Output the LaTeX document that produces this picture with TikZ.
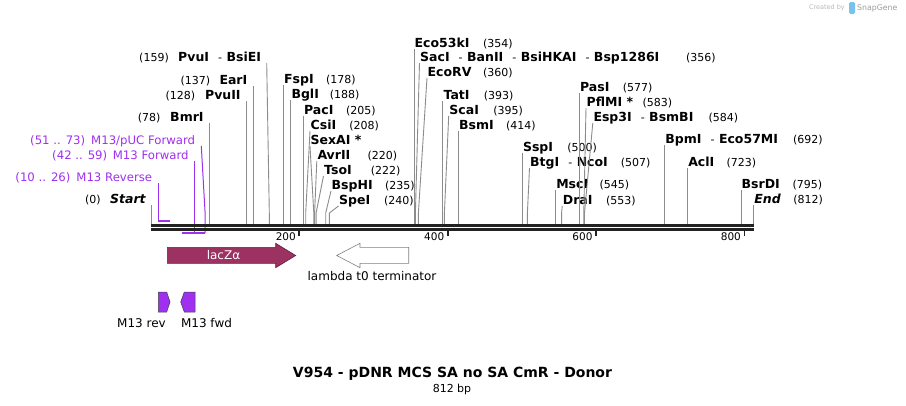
\documentclass[tikz,border=0pt]{standalone}
\usepackage{fontspec}
\setmainfont{DejaVu Sans}
\usetikzlibrary{positioning}

\definecolor{primer}{RGB}{160,48,240}
\definecolor{laczfill}{RGB}{155,50,98}
\definecolor{laczdraw}{RGB}{105,30,65}
\definecolor{siteline}{RGB}{140,140,140}
\definecolor{strandc}{RGB}{34,34,34}
\definecolor{wmgray}{RGB}{185,185,185}
\definecolor{wmblue}{RGB}{120,195,235}

\newcommand{\enz}[1]{{\fontsize{12.5}{14}\selectfont\bfseries #1}}
\newcommand{\enzsep}{\hspace{9pt}-\hspace{4.5pt}}

\tikzset{
  lab/.style={inner ysep=0pt, text depth=1.7pt, font=\fontsize{11}{13}\selectfont},
  rlab/.style={lab, anchor=south west, inner xsep=0.5pt},
  llab/.style={lab, anchor=south east, inner xsep=5.5pt},
  plab/.style={llab, inner xsep=6pt, text=primer, font=\fontsize{11.7}{14}\selectfont},
  siteln/.style={draw=siteline, line width=0.9pt},
  primln/.style={draw=primer, line width=1pt},
  primbar/.style={draw=primer, line width=1.6pt},
  strand/.style={draw=strandc, line width=2.9pt},
  tick/.style={draw=strandc, line width=1.7pt},
  ticklab/.style={anchor=base east, inner sep=0pt, font=\fontsize{10.5}{12}\selectfont},
  featlab/.style={inner sep=0pt, font=\fontsize{12}{14}\selectfont},
  primarrow/.style={fill=primer, draw=black!75, line width=0.5pt}
}

\begin{document}
\begin{tikzpicture}[x=1pt, y=-1pt]

\path[use as bounding box, fill=white] (0,0) rectangle (906,405);

% positions on the map (bp -> px)
\coordinate (kink) at (0,213);
\coordinate (m0)   at (151.4,224);
\coordinate (m78)  at (209.3,224);
\coordinate (m128) at (246.3,224);
\coordinate (m137) at (253.0,224);
\coordinate (m159) at (269.3,224);
\coordinate (m178) at (283.4,224);
\coordinate (m188) at (290.8,224);
\coordinate (m205) at (303.4,224);
\coordinate (m208) at (305.7,224);
\coordinate (m219) at (313.8,224);
\coordinate (m220) at (314.6,224);
\coordinate (m222) at (316.1,224);
\coordinate (m235) at (325.7,224);
\coordinate (m240) at (329.4,224);
\coordinate (m354) at (414.0,224);
\coordinate (m356) at (415.4,224);
\coordinate (m360) at (418.4,224);
\coordinate (m393) at (442.9,224);
\coordinate (m395) at (444.4,224);
\coordinate (m414) at (458.5,224);
\coordinate (m500) at (522.3,224);
\coordinate (m507) at (527.4,224);
\coordinate (m545) at (555.6,224);
\coordinate (m553) at (561.6,224);
\coordinate (m577) at (579.4,224);
\coordinate (m583) at (583.8,224);
\coordinate (m584) at (584.5,224);
\coordinate (m692) at (664.7,224);
\coordinate (m723) at (687.6,224);
\coordinate (m795) at (741.0,224);
\coordinate (m812) at (753.7,224);

% primers
\coordinate (p10) at (158.4,221);
\coordinate (p26) at (170.3,221);
\coordinate (p42) at (182.2,233);
\coordinate (p51) at (188.8,233);
\coordinate (p59) at (194.8,233);
\coordinate (p73) at (205.1,233);

\node[plab] (M13pUC) at (201.3,146) {\makebox[61pt][l]{(51 .. 73)}M13/pUC Forward};
\node[plab] (M13F)   at (194.8,161) {\makebox[60.6pt][l]{(42 .. 59)}M13 Forward};
\node[plab] (M13R)   at (158.4,183) {\makebox[61pt][l]{(10 .. 26)}M13 Reverse};

\draw[primln] (M13R.south east) -- (p10);
\draw[primbar] (p10) -- (p26);
\draw[primln] (M13F.south east) -- (p59);
\draw[primln] (M13pUC.south east) -- (p73 |- kink) -- (p73);
\draw[primbar] (p42) -- (p59);
\draw[primbar] (p51) -- (p73);

% sites, labels on the left
\node[llab] (Start) at (151.4,205) {\makebox[25pt][l]{(0)}\enz{\itshape Start}};
\node[llab] (BmrI)  at (209.3,123) {\makebox[32.4pt][l]{(78)}\enz{BmrI}};
\node[llab] (PvuII) at (246.3,101) {\makebox[39.4pt][l]{(128)}\enz{PvuII}};
\node[llab] (EarI)  at (253.0,86)  {\makebox[39pt][l]{(137)}\enz{EarI}};
\node[llab] (PvuI)  at (266.7,63)  {\makebox[39pt][l]{(159)}\enz{PvuI}\enzsep\enz{BsiEI}};

\draw[siteln] (Start.south east) -- (m0);
\draw[siteln] (BmrI.south east) -- (m78);
\draw[siteln] (PvuII.south east) -- (m128);
\draw[siteln] (EarI.south east) -- (m137);
\draw[siteln] (PvuI.south east) -- (m159 |- kink) -- (m159);

% sites, labels on the right
\node[rlab] (FspI)  at (283.4,85)  {\makebox[42pt][l]{\enz{FspI}}(178)};
\node[rlab] (BglI)  at (290.8,100) {\makebox[38.3pt][l]{\enz{BglI}}(188)};
\node[rlab] (PacI)  at (303.4,116) {\makebox[42pt][l]{\enz{PacI}}(205)};
\node[rlab] (CsiI)  at (310.0,131) {\makebox[38.7pt][l]{\enz{CsiI}}(208)};
\node[rlab] (SexAI) at (310.0,146) {\enz{SexAI *}};
\node[rlab] (AvrII) at (316.8,161) {\makebox[50pt][l]{\enz{AvrII}}(220)};
\node[rlab] (TsoI)  at (323.5,176) {\makebox[46.7pt][l]{\enz{TsoI}}(222)};
\node[rlab] (BspHI) at (331.0,191) {\makebox[53.3pt][l]{\enz{BspHI}}(235)};
\node[rlab] (SpeI)  at (338.5,206) {\makebox[45pt][l]{\enz{SpeI}}(240)};

\draw[siteln] (FspI.south west) -- (m178);
\draw[siteln] (BglI.south west) -- (m188);
\draw[siteln] (PacI.south west) -- (m205);
\draw[siteln] (CsiI.south west) -- (m208 |- kink) -- (m208);
\draw[siteln] (SexAI.south west) -- (m219 |- kink) -- (m219);
\draw[siteln] (AvrII.south west) -- (m220 |- kink) -- (m220);
\draw[siteln] (TsoI.south west) -- (m222 |- kink) -- (m222);
\draw[siteln] (BspHI.south west) -- (m235 |- kink) -- (m235);
\draw[siteln] (SpeI.south west) -- (m240 |- kink) -- (m240);

\node[rlab] (Eco53kI) at (414.0,49)  {\makebox[68.4pt][l]{\enz{Eco53kI}}(354)};
\node[rlab] (SacI)    at (419.5,63)  {\makebox[266pt][l]{\enz{SacI}\enzsep\enz{BanII}\enzsep\enz{BsiHKAI}\enzsep\enz{Bsp1286I}}(356)};
\node[rlab] (EcoRV)   at (427.0,78)  {\makebox[55.3pt][l]{\enz{EcoRV}}(360)};
\node[rlab] (TatI)    at (442.9,101) {\makebox[40.3pt][l]{\enz{TatI}}(393)};
\node[rlab] (ScaI)    at (448.7,116) {\makebox[44pt][l]{\enz{ScaI}}(395)};
\node[rlab] (BsmI)    at (458.5,131) {\makebox[47pt][l]{\enz{BsmI}}(414)};

\draw[siteln] (Eco53kI.south west) -- (m354);
\draw[siteln] (SacI.south west) -- (m356 |- kink) -- (m356);
\draw[siteln] (EcoRV.south west) -- (m360 |- kink) -- (m360);
\draw[siteln] (TatI.south west) -- (m393);
\draw[siteln] (ScaI.south west) -- (m395 |- kink) -- (m395);
\draw[siteln] (BsmI.south west) -- (m414);

\node[rlab] (SspI)  at (522.3,153) {\makebox[44.4pt][l]{\enz{SspI}}(500)};
\node[rlab] (BtgI)  at (529.5,168) {\makebox[90.7pt][l]{\enz{BtgI}\enzsep\enz{NcoI}}(507)};
\node[rlab] (MscI)  at (555.6,190) {\makebox[43.3pt][l]{\enz{MscI}}(545)};
\node[rlab] (DraI)  at (562.2,206) {\makebox[43.3pt][l]{\enz{DraI}}(553)};
\node[rlab] (PasI)  at (579.4,93)  {\makebox[42.7pt][l]{\enz{PasI}}(577)};
\node[rlab] (PflMI) at (586.0,108) {\makebox[56pt][l]{\enz{PflMI *}}(583)};
\node[rlab] (Esp3I) at (592.8,123) {\makebox[115pt][l]{\enz{Esp3I}\enzsep\enz{BsmBI}}(584)};
\node[rlab] (BpmI)  at (664.7,145) {\makebox[127.7pt][l]{\enz{BpmI}\enzsep\enz{Eco57MI}}(692)};
\node[rlab] (AclI)  at (687.6,168) {\makebox[38.4pt][l]{\enz{AclI}}(723)};
\node[rlab] (BsrDI) at (741.0,190) {\makebox[51pt][l]{\enz{BsrDI}}(795)};
\node[rlab] (End)   at (753.7,205) {\makebox[39pt][l]{\enz{\itshape End}}(812)};

\draw[siteln] (SspI.south west) -- (m500);
\draw[siteln] (BtgI.south west) -- (m507 |- kink) -- (m507);
\draw[siteln] (MscI.south west) -- (m545);
\draw[siteln] (DraI.south west) -- (m553 |- kink) -- (m553);
\draw[siteln] (PasI.south west) -- (m577);
\draw[siteln] (PflMI.south west) -- (m583 |- kink) -- (m583);
\draw[siteln] (Esp3I.south west) -- (m584 |- kink) -- (m584);
\draw[siteln] (BpmI.south west) -- (m692);
\draw[siteln] (AclI.south west) -- (m723);
\draw[siteln] (BsrDI.south west) -- (m795);
\draw[siteln] (End.south west) -- (m812);

% the two strands
\coordinate (mapL) at (151,225.5);
\coordinate (mapR) at (754,225.5);
\draw[strand] (mapL) -- (mapR);
\draw[strand] ([yshift=-4.2pt]mapL) -- ([yshift=-4.2pt]mapR);

% ticks
\coordinate (t200) at (299.3,230);
\coordinate (t400) at (447.7,230);
\coordinate (t600) at (596.0,230);
\coordinate (t800) at (744.4,230);
\draw[tick] (t200) -- ++(0,6);
\draw[tick] (t400) -- ++(0,6);
\draw[tick] (t600) -- ++(0,6);
\draw[tick] (t800) -- ++(0,6);
\node[ticklab] (l200) at (296.0,240.5) {200};
\node[ticklab] (l400) at (444.4,240.5) {400};
\node[ticklab] (l600) at (592.7,240.5) {600};
\node[ticklab] (l800) at (741.1,240.5) {800};

% features
\draw[fill=laczfill, draw=laczdraw, line width=0.6pt]
  (167.3,247.3) -- (275.7,247.3) -- (275.7,243.3) -- (295.7,255.5)
  -- (275.7,267.7) -- (275.7,263.3) -- (167.3,263.3) -- cycle;
\node[featlab, text=white] (lacZ) at (223.5,255.5) {lacZα};

\draw[fill=white, draw=gray, line width=0.6pt]
  (408.7,247.3) -- (360.0,247.3) -- (360.0,243.3) -- (336.7,255.5)
  -- (360.0,267.7) -- (360.0,263.3) -- (408.7,263.3) -- cycle;
\node[featlab] (lambdaT0) at (372.0,276.5) {lambda t0 terminator};

\draw[primarrow] (158.3,292) -- (166.7,292) -- (170.0,302) -- (166.7,312) -- (158.3,312) -- cycle;
\draw[primarrow] (195.0,292) -- (184.3,292) -- (180.7,302) -- (184.3,312) -- (195.0,312) -- cycle;
\node[featlab] (M13rev) at (141.5,323) {M13 rev};
\node[featlab] (M13fwd) at (206.5,323) {M13 fwd};

% title
\node[font=\fontsize{14}{16}\selectfont\bfseries] (title) at (452.5,374) {V954 - pDNR MCS SA no SA CmR - Donor};
\node[font=\fontsize{11}{13}\selectfont] (bplen) at (452.0,389) {812 bp};

% watermark
\node[anchor=east, inner sep=0pt, text=wmgray, font=\fontsize{6.5}{8}\selectfont] (crby) at (845,8) {Created by};
\fill[wmblue, rounded corners=1.5pt] (849,2) rectangle (855,14);
\node[anchor=west, inner sep=0pt, text=wmgray!85!black, font=\fontsize{7.8}{9}\selectfont] (sgene) at (857,8) {SnapGene};

\end{tikzpicture}
\end{document}
